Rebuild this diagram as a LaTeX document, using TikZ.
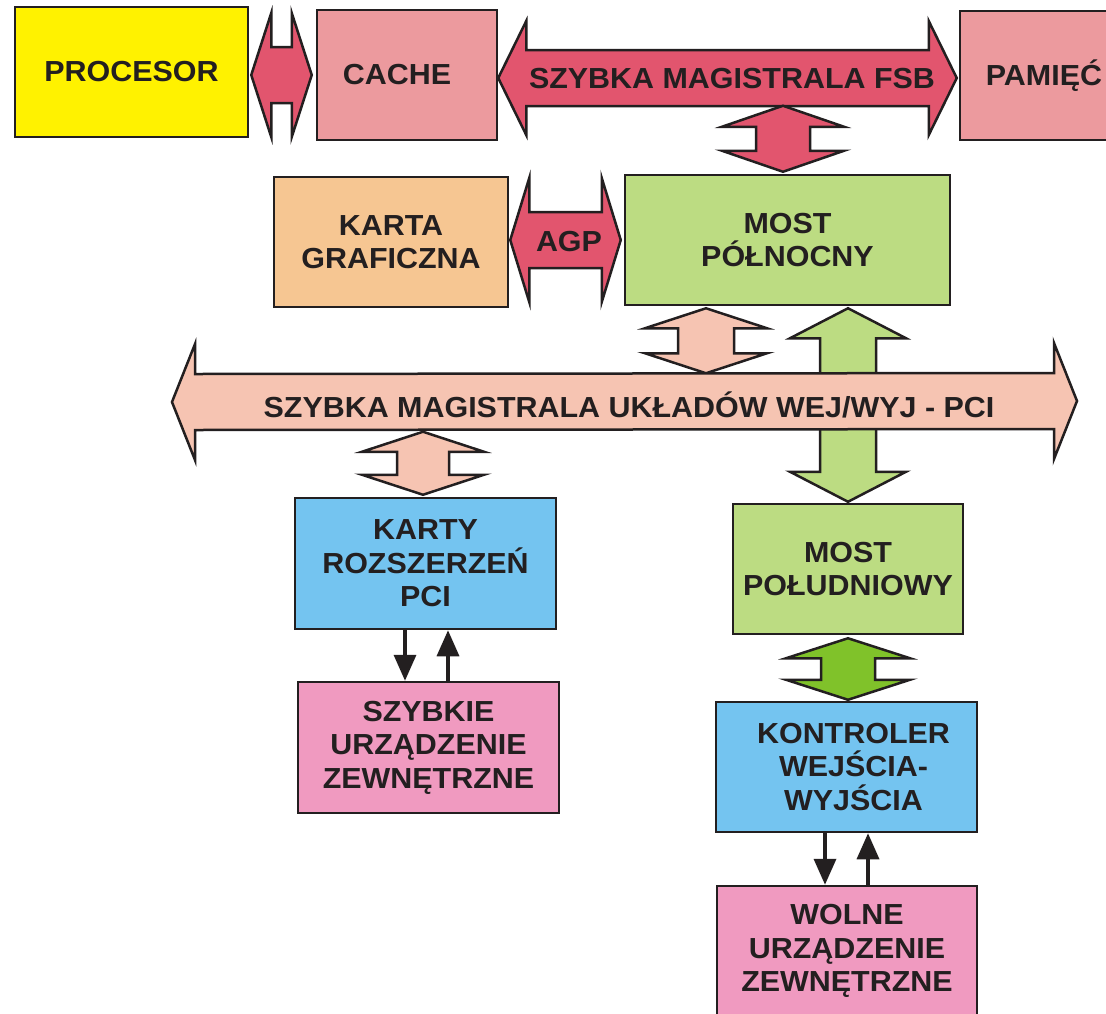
\documentclass[tikz,border=0pt]{standalone}
\usepackage{fontspec}
\setmainfont{Liberation Sans}[FakeStretch=1.05]
\usetikzlibrary{calc,arrows.meta}
\definecolor{dk}{HTML}{231F20}
\definecolor{cyel}{HTML}{FFF200}
\definecolor{cred}{RGB}{226,85,110}
\definecolor{cros}{RGB}{236,154,158}
\definecolor{cora}{RGB}{246,198,146}
\definecolor{cgrn}{RGB}{188,220,130}
\definecolor{csal}{RGB}{246,196,178}
\definecolor{cblu}{RGB}{116,196,240}
\definecolor{cpnk}{RGB}{240,154,192}
\definecolor{cbgr}{RGB}{128,194,42}
\newcommand\bx{\fontsize{29}{33.5}\selectfont\bfseries}
\newcommand\harr[6]{%
 \draw[blk, fill=#6] (#1) -- ($(#1)+(#3,-#4)$) -- ($(#1)+(#3,-#5)$) -- ($(#2)+(-#3,-#5)$) -- ($(#2)+(-#3,-#4)$) -- (#2) -- ($(#2)+(-#3,#4)$) -- ($(#2)+(-#3,#5)$) -- ($(#1)+(#3,#5)$) -- ($(#1)+(#3,#4)$) -- cycle;}
\newcommand\varr[6]{%
 \draw[blk, fill=#6] (#1) -- ($(#1)+(#4,#3)$) -- ($(#1)+(#5,#3)$) -- ($(#2)+(#5,-#3)$) -- ($(#2)+(#4,-#3)$) -- (#2) -- ($(#2)+(-#4,-#3)$) -- ($(#2)+(-#5,-#3)$) -- ($(#1)+(-#5,#3)$) -- ($(#1)+(-#4,#3)$) -- cycle;}
\tikzset{
 box/.style={draw=dk, line width=2.5pt, align=center, font=\bx, text=dk, inner sep=0pt},
 blk/.style={draw=dk, line width=2.5pt, line join=miter},
 lbl/.style={font=\bx, text=dk, inner sep=0pt},
 tarrow/.style={draw=dk, line width=3.5pt, -{Triangle[width=22pt,length=26pt]}}
}
\begin{document}
\begin{tikzpicture}[x=1pt,y=-1pt]
\useasboundingbox (0,0) rectangle (1106,1013);
\clip (0,0) rectangle (1106,1013);
\fill[white] (0,0) rectangle (1106,1013);
% boxes
\node[box, fill=cyel, minimum width=233pt, minimum height=130pt] (proc) at (131.5,72) {PROCESOR};
\node[box, fill=cros, minimum width=180pt, minimum height=130pt] (cache) at (407,75) {CACHE\hspace*{20pt}};
\node[box, fill=cros, minimum width=168pt, minimum height=129pt] (pam) at (1044,75.5) {PAMIĘĆ};
\node[box, fill=cora, minimum width=234pt, minimum height=130pt] (karta) at (391,242) {KARTA\\GRAFICZNA};
\node[box, fill=cgrn, minimum width=325pt, minimum height=130pt] (mp) at (787.5,240) {MOST\\PÓŁNOCNY};
\node[box, fill=cblu, minimum width=261pt, minimum height=131pt] (karty) at (425.5,563.5) {KARTY\\ROZSZERZEŃ\\PCI};
\node[box, fill=cpnk, minimum width=261pt, minimum height=131pt] (szyb) at (428.5,747.5) {SZYBKIE\\URZĄDZENIE\\ZEWNĘTRZNE};
\node[box, fill=cgrn, minimum width=230pt, minimum height=130pt] (mps) at (848,569) {MOST\\POŁUDNIOWY};
\node[box, fill=cblu, minimum width=261pt, minimum height=130pt] (kon) at (846.5,767) {\hspace*{14pt}KONTROLER\\\hspace*{14pt}WEJŚCIA-\\\hspace*{14pt}WYJŚCIA};
\node[box, fill=cpnk, minimum width=260pt, minimum height=130pt] (wol) at (847,951) {WOLNE\\URZĄDZENIE\\ZEWNĘTRZNE};
% connector end points
\coordinate (pcL) at ($(proc.east)+(2,3)$);
\coordinate (pcR) at ($(cache.west)+(-4,0)$);
\coordinate (fsbL) at ($(cache.east)+(0,3)$);
\coordinate (fsbR) at ($(pam.west)+(-2,2.5)$);
\coordinate (rvT) at ($(mp.north)+(-4.5,-68)$);
\coordinate (rvB) at ($(mp.north)+(-4.5,-2)$);
\coordinate (agL) at ($(karta.east)+(1,-2)$);
\coordinate (agR) at ($(mp.west)+(-3,0)$);
\coordinate (pvT) at ($(mp.south)+(-81.5,2)$);
\coordinate (pvB) at ($(mp.south)+(-81.5,67)$);
\coordinate (gvT) at ($(mp.south)+(60.5,2)$);
\coordinate (gvB) at ($(mps.north)+(0,-1)$);
\coordinate (pciL) at (172,402);
\coordinate (pciR) at (1077,401);
\coordinate (kvT) at ($(karty.north)+(-2.5,-65)$);
\coordinate (kvB) at ($(karty.north)+(-2.5,-2)$);
\coordinate (bgT) at ($(mps.south)+(0,3)$);
\coordinate (bgB) at ($(kon.north)+(1.5,-1)$);
% block arrows
\harr{pcL}{pcR}{20}{62}{28}{cred}
\harr{fsbL}{fsbR}{28}{57}{28}{cred}
\node[lbl] (fsbt) at (732,79) {SZYBKA MAGISTRALA FSB};
\varr{rvT}{rvB}{21}{61}{27}{cred}
\harr{agL}{agR}{19}{62}{28}{cred}
\node[lbl] (agpt) at (569,242) {AGP};
\varr{pvT}{pvB}{20}{61}{28}{csal}
\varr{gvT}{gvB}{30}{58}{28}{cgrn}
\harr{pciL}{pciR}{23}{58}{28}{csal}
\node[lbl] (pcit) at (629,405) {SZYBKA MAGISTRALA UKŁADÓW WEJ/WYJ - PCI};
\varr{kvT}{kvB}{20}{61}{26}{csal}
\varr{bgT}{bgB}{20}{62}{27}{cbgr}
% thin arrows
\coordinate (k1) at ($(karty.south)+(-20.5,0)$);
\coordinate (k2) at ($(karty.south)+(22.5,0)$);
\draw[tarrow] (k1) -- (k1 |- szyb.north);
\draw[tarrow] (k2 |- szyb.north) -- (k2);
\coordinate (c1) at ($(kon.south)+(-21.5,0)$);
\coordinate (c2) at ($(kon.south)+(21.5,0)$);
\draw[tarrow] (c1) -- (c1 |- wol.north);
\draw[tarrow] (c2 |- wol.north) -- (c2);
\end{tikzpicture}
\end{document}
